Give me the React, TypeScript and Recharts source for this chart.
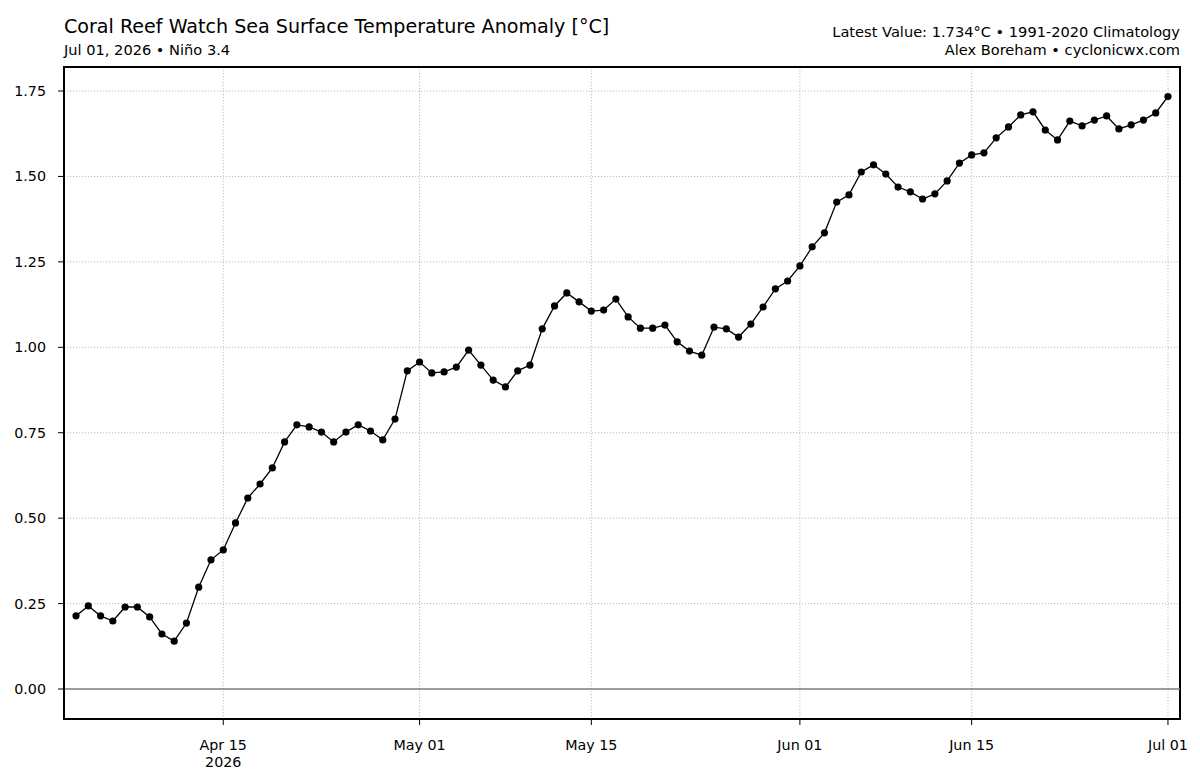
import { LineChart, Line, XAxis, YAxis, CartesianGrid, ReferenceLine, ReferenceArea } from 'recharts';

const FONT = '"DejaVu Sans", Verdana, sans-serif';

// daily anomaly values, Apr 03 .. Jul 01 2026
const startDate = '2026-04-03';
const anomalies = [
  0.214, 0.243, 0.214, 0.199, 0.240, 0.240, 0.211, 0.161, 0.140, 0.193,
  0.298, 0.378, 0.407, 0.486, 0.559, 0.600, 0.647, 0.723, 0.773, 0.767,
  0.752, 0.723, 0.752, 0.773, 0.755, 0.729, 0.790, 0.931, 0.957, 0.925,
  0.928, 0.942, 0.992, 0.948, 0.904, 0.884, 0.931, 0.948, 1.054, 1.121,
  1.159, 1.133, 1.106, 1.109, 1.141, 1.089, 1.056, 1.056, 1.065, 1.016,
  0.989, 0.977, 1.059, 1.054, 1.030, 1.068, 1.118, 1.171, 1.194, 1.238,
  1.294, 1.335, 1.425, 1.446, 1.513, 1.534, 1.507, 1.469, 1.455, 1.434,
  1.449, 1.487, 1.539, 1.563, 1.569, 1.613, 1.645, 1.680, 1.689, 1.636,
  1.607, 1.662, 1.648, 1.665, 1.677, 1.639, 1.651, 1.665, 1.686, 1.734,
];

const tickDates = ['2026-04-15', '2026-05-01', '2026-05-15', '2026-06-01', '2026-06-15', '2026-07-01'];
const tickLabels = [['Apr 15', '2026'], ['May 01'], ['May 15'], ['Jun 01'], ['Jun 15'], ['Jul 01']];
const yTicks = [0, 0.25, 0.5, 0.75, 1.0, 1.25, 1.5, 1.75];

const DAY = 86400000;
const t0 = Date.parse(startDate);
const dayOf = (d: string) => Math.round((Date.parse(d) - t0) / DAY);

const data = anomalies.map((v, i) => ({ day: i, value: v }));
const xTicks = tickDates.map(dayOf);

const X_DOMAIN: [number, number] = [-0.98, 89.98];
const Y_DOMAIN: [number, number] = [-0.0878, 1.8203];

const XTick = (props: any) => {
  const { x, y, payload } = props;
  const idx = xTicks.indexOf(payload.value);
  const lines = idx >= 0 ? tickLabels[idx] : [];
  return (
    <text x={x} y={y} textAnchor="middle" fontFamily={FONT} fontSize={14.3} fill="#000">
      {lines.map((l, i) => (
        <tspan key={i} x={x} dy={i === 0 ? 23 : 16.5}>
          {l}
        </tspan>
      ))}
    </text>
  );
};

const YTick = (props: any) => {
  const { x, y, payload } = props;
  return (
    <text x={x} y={y} dy={5} textAnchor="end" fontFamily={FONT} fontSize={14.3} fill="#000">
      {payload.value.toFixed(2)}
    </text>
  );
};

export default function App() {
  return (
    <div style={{ position: 'absolute', left: 0, top: 0, width: 1200, height: 776, background: '#fff' }}>
      <svg width={1200} height={70} style={{ position: 'absolute', left: 0, top: 0 }}>
        <text x={64} y={33} fontFamily={FONT} fontSize={19.1} fill="#000">
          Coral Reef Watch Sea Surface Temperature Anomaly [°C]
        </text>
        <text x={64} y={55} fontFamily={FONT} fontSize={14.6} fill="#000">
          Jul 01, 2026 • Niño 3.4
        </text>
        <text x={1180} y={37} textAnchor="end" fontFamily={FONT} fontSize={14.6} fill="#000">
          Latest Value: 1.734°C • 1991-2020 Climatology
        </text>
        <text x={1180} y={55} textAnchor="end" fontFamily={FONT} fontSize={14.6} fill="#000">
          Alex Boreham • cyclonicwx.com
        </text>
      </svg>
      <div style={{ position: 'absolute', left: 0, top: 0 }}>
        <LineChart width={1200} height={776} data={data} margin={{ top: 67, right: 20, bottom: 0, left: 0 }}>
          <CartesianGrid stroke="#bdbdbd" strokeDasharray="1.2 1.8" strokeWidth={1} />
          <XAxis
            dataKey="day"
            type="number"
            domain={X_DOMAIN}
            ticks={xTicks}
            allowDataOverflow
            height={57}
            tickSize={6}
            tickMargin={2}
            tick={<XTick />}
            tickLine={{ stroke: '#000', strokeWidth: 1 }}
            axisLine={{ stroke: '#000', strokeWidth: 2 }}
          />
          <YAxis
            type="number"
            domain={Y_DOMAIN}
            ticks={yTicks}
            allowDataOverflow
            width={64}
            tickSize={6}
            tickMargin={12}
            tick={<YTick />}
            tickLine={{ stroke: '#000', strokeWidth: 1 }}
            axisLine={{ stroke: '#000', strokeWidth: 2 }}
          />
          <ReferenceLine y={0} stroke="#808080" strokeWidth={1.5} />
          <ReferenceArea
            x1={X_DOMAIN[0]}
            x2={X_DOMAIN[1]}
            y1={Y_DOMAIN[0]}
            y2={Y_DOMAIN[1]}
            fill="none"
            fillOpacity={0}
            stroke="#000"
            strokeWidth={2}
          />
          <Line
            type="linear"
            dataKey="value"
            stroke="#000"
            strokeWidth={1.3}
            dot={{ r: 3.6, fill: '#000', stroke: 'none' }}
            activeDot={false}
            isAnimationActive={false}
          />
        </LineChart>
      </div>
    </div>
  );
}
